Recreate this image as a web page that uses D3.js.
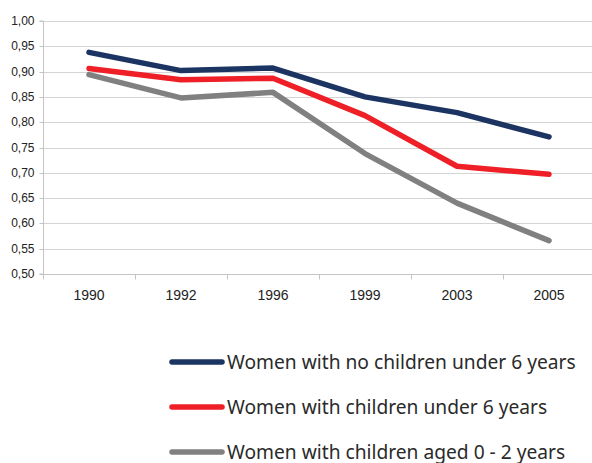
<!DOCTYPE html>
<html>
<head>
<script src="https://d3js.org/d3.v7.min.js"></script>
<style>
  body { margin: 0; background: #fff; }
  svg { display: block; }
</style>
</head>
<body>
<div id="chart"></div>
<script>
// data
const years = ["1990", "1992", "1996", "1999", "2003", "2005"];
const noChildren = [0.938, 0.902, 0.907, 0.850, 0.819, 0.771];
const childrenUnder6 = [0.906, 0.884, 0.887, 0.813, 0.713, 0.697];
const children0to2 = [0.894, 0.848, 0.859, 0.738, 0.640, 0.566];
const yTicks = [0.50, 0.55, 0.60, 0.65, 0.70, 0.75, 0.80, 0.85, 0.90, 0.95, 1.00];

const series = [
  { name: "Women with no children under 6 years", values: noChildren, color: "#1b3462" },
  { name: "Women with children under 6 years", values: childrenUnder6, color: "#ee1f26" },
  { name: "Women with children aged 0 - 2 years", values: children0to2, color: "#808080" }
];

const W = 592, H = 463;
const plotLeft = 43, plotRight = 592, plotTop = 21, plotBottom = 274;

const svg = d3.select("#chart").append("svg")
  .attr("width", W).attr("height", H);

const x = d3.scaleBand().domain(years).range([plotLeft, plotRight + 3]);
const y = d3.scaleLinear().domain([0.5, 1.0]).range([plotBottom, plotTop]);

// gridlines
svg.append("g")
  .selectAll("line")
  .data(yTicks.slice(1))
  .join("line")
  .attr("x1", plotLeft).attr("x2", plotRight)
  .attr("y1", d => Math.round(y(d)) + 0.5)
  .attr("y2", d => Math.round(y(d)) + 0.5)
  .attr("stroke", "#d4d4d4");

// y axis
const yAxis = svg.append("g")
  .attr("transform", `translate(${plotLeft + 0.5},0)`)
  .call(d3.axisLeft(y).tickValues(yTicks).tickSize(4).tickPadding(5)
    .tickFormat(d => d3.format(".2f")(d).replace(".", ",")));
yAxis.select(".domain").attr("stroke", "#c4c4c4").attr("d", `M-4,${plotTop}H0V${plotBottom}H-4`);
yAxis.selectAll(".tick line").attr("stroke", "#c4c4c4");
yAxis.selectAll(".tick text")
  .attr("fill", "#222").style("font-family", "Liberation Sans, Arial, sans-serif").style("font-size", "12px");
yAxis.selectAll(".tick").attr("transform", d => `translate(0,${Math.round(y(d)) + 0.5})`);

// x axis
const xAxis = svg.append("g")
  .attr("transform", `translate(0,${plotBottom + 0.5})`)
  .call(d3.axisBottom(x).tickSize(0).tickPadding(16));
xAxis.select(".domain").attr("stroke", "#c4c4c4").attr("d", `M${plotLeft},0H${plotRight}`);
xAxis.selectAll(".tick text")
  .attr("fill", "#222").style("font-family", "Liberation Sans, Arial, sans-serif").style("font-size", "14px");
xAxis.append("g")
  .selectAll("line")
  .data(years)
  .join("line")
  .attr("x1", d => Math.round(x(d)) + 0.5).attr("x2", d => Math.round(x(d)) + 0.5)
  .attr("y1", 0).attr("y2", 5)
  .attr("stroke", "#c4c4c4");

// lines
const line = d3.line()
  .x((d, i) => x(years[i]) + x.bandwidth() / 2)
  .y(d => y(d));

svg.append("g")
  .selectAll("path")
  .data(series.slice().reverse())
  .join("path")
  .attr("d", d => line(d.values))
  .attr("fill", "none")
  .attr("stroke", d => d.color)
  .attr("stroke-width", 5.5)
  .attr("stroke-linecap", "round")
  .attr("stroke-linejoin", "round");

// legend
const legend = svg.append("g")
  .selectAll("g")
  .data(series)
  .join("g")
  .attr("transform", (d, i) => `translate(172,${362 + i * 45})`);
legend.append("line")
  .attr("x1", 0).attr("x2", 50)
  .attr("stroke", d => d.color)
  .attr("stroke-width", 5.5)
  .attr("stroke-linecap", "round");
legend.append("text")
  .attr("x", 55).attr("y", 7)
  .attr("fill", "#2a2a2a")
  .style("font-family", "Noto Sans, sans-serif")
  .style("font-size", "19.2px")
  .text(d => d.name);
</script>
</body>
</html>
